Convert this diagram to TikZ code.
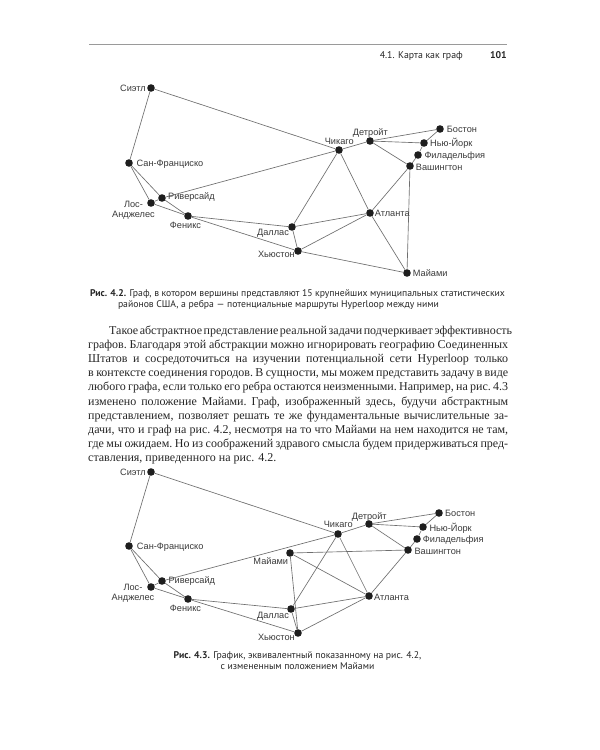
\documentclass[tikz,border=0pt]{standalone}
\usepackage{fontspec}
\setmainfont{Liberation Serif}
\newfontfamily\lblfont{Liberation Sans}
\newfontfamily\capfont{PT Sans}
\definecolor{dotc}{HTML}{1E1E1E}
\definecolor{edgec}{HTML}{6E6E6E}
\definecolor{lblc}{HTML}{3A3A3A}
\definecolor{txtc}{HTML}{262626}
\definecolor{rulec}{HTML}{9A9A9A}
\newcommand\bodyline[2]{\hbox to #1{\spaceskip=0.25em plus 0.8em minus 0.12em\xspaceskip=\spaceskip #2}}
\newcommand\drawgraphedges[1]{%
  \foreach \a/\b in {sea/chi,sea/sf,sf/riv,sf/la,la/riv,la/phx,riv/phx,riv/chi,phx/dal,phx/hou,dal/chi,dal/atl,dal/hou,hou/atl,hou/mia,atl/chi,atl/was,atl/mia,mia/was,chi/det,det/bos,det/was,det/ny,bos/ny,ny/phi,phi/was}
    {\draw[edge] (#1\a) -- (#1\b);}}
\begin{document}
\begin{tikzpicture}[x=1pt,y=-1pt,
  city/.style={circle,fill=dotc,inner sep=0pt,minimum size=7.6pt},
  edge/.style={draw=edgec,line width=0.65pt},
  lbl/.style={font=\lblfont\fontsize{9.2}{10}\selectfont,text=lblc,inner sep=0pt},
  body/.style={font=\fontsize{12}{14.2}\selectfont,text=txtc,inner sep=0pt,anchor=base west},
  captxt/.style={font=\capfont\fontsize{9.7}{11}\selectfont,text=txtc,inner sep=0pt,anchor=base},
  hdr/.style={font=\capfont\fontsize{9.8}{12}\selectfont,text=txtc,inner sep=0pt,anchor=base east}]
\useasboundingbox (0,0) rectangle (600,750);
\fill[white] (0,0) rectangle (600,750);
% header
\coordinate (rl) at (89,44);
\coordinate (rr) at (507,44);
\draw[rulec,line width=1pt] (rl) -- (rr);
\node[hdr] (hdrtitle) at (463,58.5) {4.1. Карта как граф};
\node[hdr] (hdrpage) at (507,58.5) {\bfseries 101};

% ---------- graph 1 ----------
\node[city] (asea) at (151,88) {};
\node[city] (asf) at (129,163) {};
\node[city] (ariv) at (162,198) {};
\node[city] (ala) at (151,203) {};
\node[city] (aphx) at (188,216) {};
\node[city] (adal) at (292,227) {};
\node[city] (ahou) at (298,251) {};
\node[city] (achi) at (339,150) {};
\node[city] (adet) at (370,141) {};
\node[city] (abos) at (440,129) {};
\node[city] (any) at (424,143) {};
\node[city] (aphi) at (418,155) {};
\node[city] (awas) at (410,166) {};
\node[city] (aatl) at (370,213) {};
\node[city] (amia) at (407,273) {};
\drawgraphedges{a}
\node[lbl,anchor=base east] (lasea) at (146,91.4) {Сиэтл};
\node[lbl,anchor=base west] (lasf) at (136.5,166.4) {Сан-Франциско};
\node[lbl,anchor=base west] (lariv) at (168,199.4) {Риверсайд};
\node[lbl,anchor=base] (lala1) at (133.5,207.7) {Лос-};
\node[lbl,anchor=base] (lala2) at (133.5,217.7) {Анджелес};
\node[lbl,anchor=base] (laphx) at (185.5,228.4) {Феникс};
\node[lbl,anchor=base] (ladal) at (273,235) {Даллас};
\node[lbl,anchor=base east] (lahou) at (295,257.7) {Хьюстон};
\node[lbl,anchor=base] (lachi) at (339.2,144.4) {Чикаго};
\node[lbl,anchor=base] (ladet) at (370.3,135.4) {Детройт};
\node[lbl,anchor=base west] (labos) at (446.7,132.4) {Бостон};
\node[lbl,anchor=base west] (lany) at (430,146.7) {Нью-Йорк};
\node[lbl,anchor=base west] (laphi) at (424.3,158.1) {Филадельфия};
\node[lbl,anchor=base west] (lawas) at (415.7,170.1) {Вашингтон};
\node[lbl,anchor=base west] (laatl) at (374.7,216.7) {Атланта};
\node[lbl,anchor=base west] (lamia) at (412.7,276.7) {Майами};

% caption 1
\node[captxt] (cap1a) at (297.5,296.5) {\textbf{Рис. 4.2.} Граф, в котором вершины представляют 15 крупнейших муниципальных статистических};
\node[captxt] (cap1b) at (278.5,307.5) {районов США, а ребра — потенциальные маршруты Hyperloop между ними};

% body text
\node[body] (t1) at (109,334) {\bodyline{399pt}{Такое абстрактное представление реальной задачи подчеркивает эффективность}};
\node[body] (t2) at (88,348.2) {\bodyline{420pt}{графов. Благодаря этой абстракции можно игнорировать географию Соединенных}};
\node[body] (t3) at (88,362.4) {\bodyline{420pt}{Штатов и сосредоточиться на изучении потенциальной сети Hyperloop только}};
\node[body] (t4) at (88,376.6) {\bodyline{420pt}{в контексте соединения городов. В сущности, мы можем представить задачу в виде}};
\node[body] (t5) at (88,390.8) {\bodyline{420pt}{любого графа, если только его ребра остаются неизменными. Например, на рис. 4.3}};
\node[body] (t6) at (88,405) {\bodyline{420pt}{изменено положение Майами. Граф, изображенный здесь, будучи абстрактным}};
\node[body] (t7) at (88,419.2) {\bodyline{420pt}{представлением, позволяет решать те же фундаментальные вычислительные за-}};
\node[body] (t8) at (88,433.4) {\bodyline{420pt}{дачи, что и граф на рис. 4.2, несмотря на то что Майами на нем находится не там,}};
\node[body] (t9) at (88,447.6) {\bodyline{420pt}{где мы ожидаем. Но из соображений здравого смысла будем придерживаться пред-}};
\node[body] (t10) at (88,461.8) {ставления, приведенного на рис. 4.2.};

% ---------- graph 2 ----------
\node[city] (bsea) at (151,472) {};
\node[city] (bsf) at (129,546) {};
\node[city] (briv) at (162,581) {};
\node[city] (bla) at (151,587) {};
\node[city] (bphx) at (188,599) {};
\node[city] (bmia) at (290,553) {};
\node[city] (bdal) at (291,609) {};
\node[city] (bhou) at (298,633) {};
\node[city] (bchi) at (338,534) {};
\node[city] (bdet) at (369,524) {};
\node[city] (bbos) at (439,513) {};
\node[city] (bny) at (423,527) {};
\node[city] (bphi) at (417,539) {};
\node[city] (bwas) at (408,550) {};
\node[city] (batl) at (369,596) {};
\drawgraphedges{b}
\node[lbl,anchor=base east] (lbsea) at (146,475) {Сиэтл};
\node[lbl,anchor=base west] (lbsf) at (136.7,549.4) {Сан-Франциско};
\node[lbl,anchor=base west] (lbriv) at (168.3,583.4) {Риверсайд};
\node[lbl,anchor=base] (lbla1) at (133,590.7) {Лос-};
\node[lbl,anchor=base] (lbla2) at (133,600.7) {Анджелес};
\node[lbl,anchor=base] (lbphx) at (185.5,611.7) {Феникс};
\node[lbl,anchor=base east] (lbmia) at (288.3,564.1) {Майами};
\node[lbl,anchor=base] (lbdal) at (273,618.4) {Даллас};
\node[lbl,anchor=base east] (lbhou) at (295,640.7) {Хьюстон};
\node[lbl,anchor=base] (lbchi) at (338.3,527.7) {Чикаго};
\node[lbl,anchor=base] (lbdet) at (369.2,519.1) {Детройт};
\node[lbl,anchor=base west] (lbbos) at (445,516.7) {Бостон};
\node[lbl,anchor=base west] (lbny) at (429.3,531) {Нью-Йорк};
\node[lbl,anchor=base west] (lbphi) at (422.7,542.4) {Филадельфия};
\node[lbl,anchor=base west] (lbwas) at (414.3,554.1) {Вашингтон};
\node[lbl,anchor=base west] (lbatl) at (374,600.1) {Атланта};

% caption 2
\node[captxt] (cap2a) at (297.5,658) {\textbf{Рис. 4.3.} График, эквивалентный показанному на рис. 4.2,};
\node[captxt] (cap2b) at (297.5,669) {с измененным положением Майами};
\end{tikzpicture}
\end{document}
